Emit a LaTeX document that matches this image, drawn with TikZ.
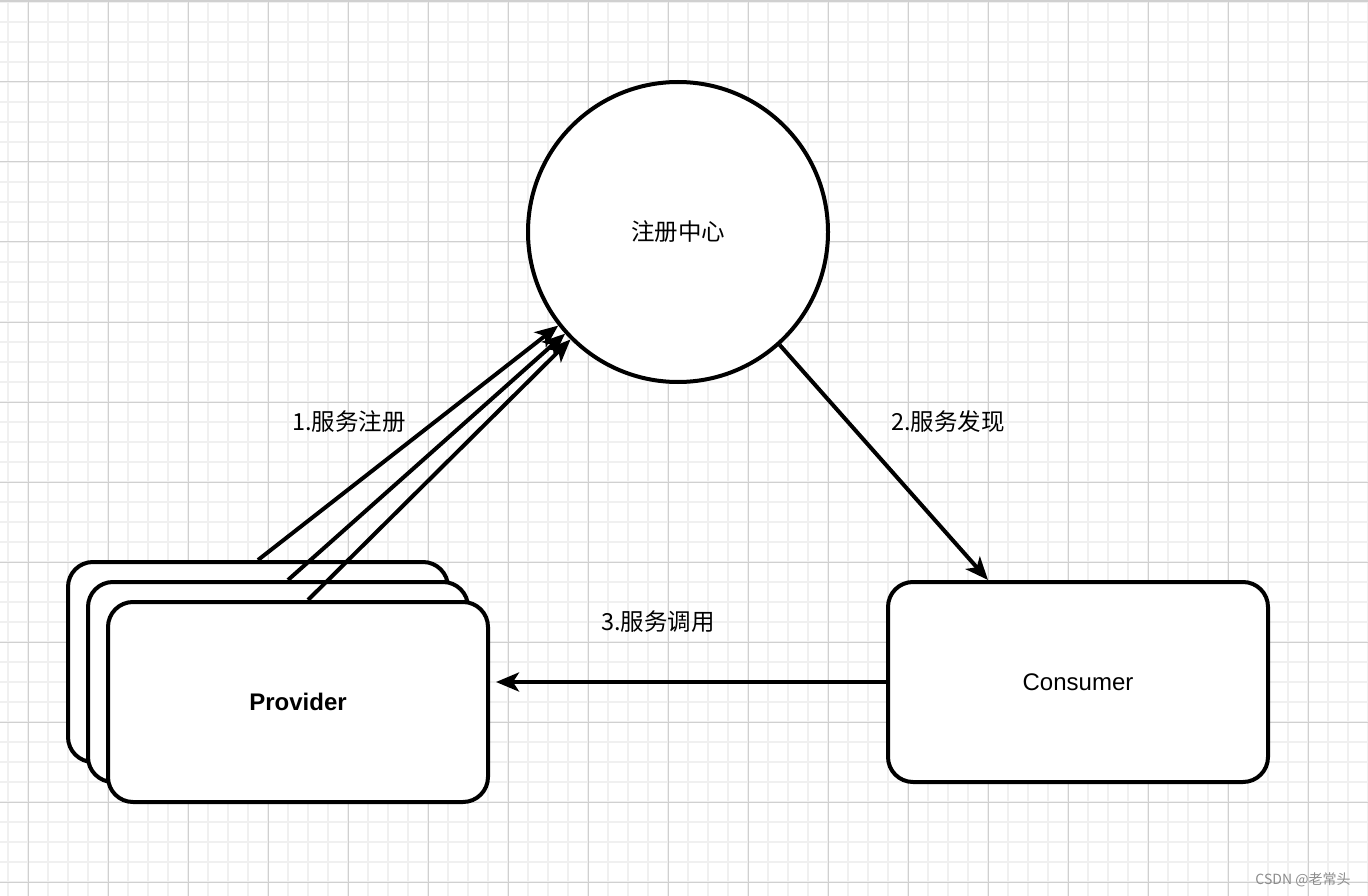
\documentclass[tikz,border=0pt]{standalone}
\usepackage{fontspec}
\setmainfont{Liberation Sans}
\newfontfamily\cjk{Noto Sans CJK SC}
\usetikzlibrary{arrows.meta,calc}
\definecolor{gridmajor}{HTML}{D0D0D0}
\definecolor{gridminor}{HTML}{F0F0F0}
\tikzset{
  box/.style={draw, line width=4pt, fill=white, rounded corners=25pt,
    minimum width=380pt, minimum height=200pt, inner sep=0pt, font=\fontsize{24}{28}\selectfont},
  hub/.style={draw, circle, line width=4pt, fill=white, minimum size=300pt, inner sep=0pt,
    font=\cjk\fontsize{23.5}{27}\selectfont},
  conn/.style={line width=4pt, -{Stealth[length=23pt, width=19pt, inset=6pt]}},
  lbl/.style={font=\cjk\fontsize{23.5}{27}\selectfont, inner sep=0pt},
}
\begin{document}
\begin{tikzpicture}[x=1pt,y=-1pt]
  % canvas and grid
  \fill[white] (0,0) rectangle (1368,896);
  \useasboundingbox (0,0) rectangle (1368,896);
  \foreach \gx in {8,28,...,1368} \draw[gridminor, line width=1.2pt] (\gx,0) -- (\gx,896);
  \foreach \gy in {2,22,...,896} \draw[gridminor, line width=1.2pt] (0,\gy) -- (1368,\gy);
  \foreach \gx in {28,108,...,1368} \draw[gridmajor, line width=1pt] (\gx,0) -- (\gx,896);
  \foreach \gy in {82,162,...,896} \draw[gridmajor, line width=1pt] (0,\gy) -- (1368,\gy);
  \draw[gridmajor, line width=2pt] (0,1) -- (1368,1);

  % registry
  \node[hub] (reg) at (678,232) {注册中心};

  % stacked providers
  \node[box] (prov1) at (258,662) {};
  \node[box] (prov2) at (278,682) {};
  \node[box, font=\bfseries\fontsize{24}{28}\selectfont] (prov3) at (298,702) {Provider};

  % consumer
  \node[box] (cons) at (1078,682) {Consumer};

  % connectors
  \draw[conn] (prov1.north) -- (reg.218);
  \draw[conn] ($(prov2.north)+(10,0)$) -- (reg.222);
  \draw[conn] ($(prov3.north)+(10,0)$) -- (reg.225);
  \draw[conn] (reg.-48) -- ($(cons.north)+(-90,0)$);
  \draw[conn, shorten >=6pt] (cons.west) -- (cons.west -| prov3.east);

  % labels
  \node[lbl] (l1) at (349,422) {1.服务注册};
  \node[lbl] (l2) at (948,422) {2.服务发现};
  \node[lbl] (l3) at (658,622) {3.服务调用};

  % footer mark
  \node[font=\cjk\fontsize{14}{16}\selectfont, text=black!45, inner sep=0pt] (mark) at (1303,880) {CSDN @老常头};
\end{tikzpicture}
\end{document}
